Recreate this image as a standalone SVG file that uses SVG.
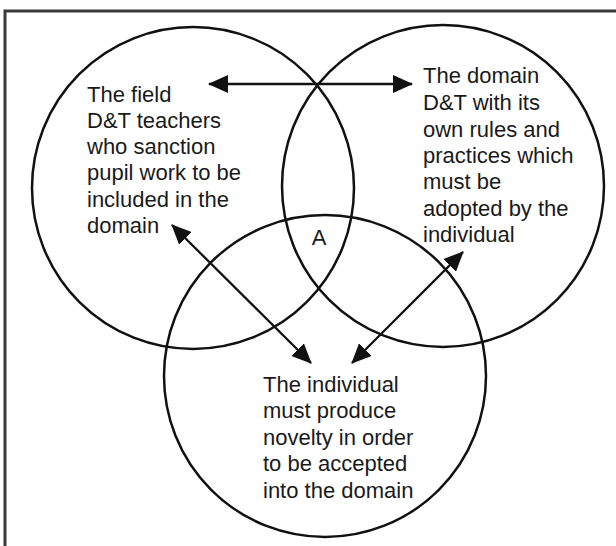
<svg xmlns="http://www.w3.org/2000/svg" width="616" height="546" viewBox="0 0 616 546">
  <style>
    .ring { fill: none; stroke: #111; stroke-width: 2.5; }
    .link { fill: none; stroke: #111; stroke-width: 2.3; }
    .label { font-family: "Liberation Sans", Arial, sans-serif; font-size: 22px; fill: #1a1a1a; }
    .frame { fill: none; stroke: #3a3a3a; stroke-width: 3; }
  </style>
  <defs>
    <marker id="head" viewBox="0 0 20 18" refX="19" refY="9" markerWidth="20" markerHeight="18" markerUnits="userSpaceOnUse" orient="auto-start-reverse">
      <path d="M0,0 L20,9 L0,18 Z" fill="#111"/>
    </marker>
  </defs>

  <rect width="616" height="546" fill="#fff"/>
  <!-- outer frame, open at right and bottom -->
  <path class="frame" d="M5,546 V11 H616"/>

  <g id="field">
    <circle class="ring" cx="193" cy="188" r="161"/>
    <text class="label">
      <tspan x="87" y="102">The field</tspan>
      <tspan x="87" y="128">D&amp;T teachers</tspan>
      <tspan x="87" y="154">who sanction</tspan>
      <tspan x="87" y="180">pupil work to be</tspan>
      <tspan x="87" y="207">included in the</tspan>
      <tspan x="87" y="233">domain</tspan>
    </text>
  </g>

  <g id="domain">
    <circle class="ring" cx="443" cy="186" r="161"/>
    <text class="label">
      <tspan x="423" y="83">The domain</tspan>
      <tspan x="423" y="110">D&amp;T with its</tspan>
      <tspan x="423" y="137">own rules and</tspan>
      <tspan x="423" y="163">practices which</tspan>
      <tspan x="423" y="189">must be</tspan>
      <tspan x="423" y="216">adopted by the</tspan>
      <tspan x="423" y="242">individual</tspan>
    </text>
  </g>

  <g id="individual">
    <circle class="ring" cx="325" cy="376" r="161"/>
    <text class="label">
      <tspan x="263" y="392">The individual</tspan>
      <tspan x="263" y="418">must produce</tspan>
      <tspan x="263" y="445">novelty in order</tspan>
      <tspan x="263" y="471">to be accepted</tspan>
      <tspan x="263" y="498">into the domain</tspan>
    </text>
  </g>

  <g id="overlap">
    <text class="label" x="319" y="245" text-anchor="middle">A</text>
  </g>

  <g id="connectors">
    <line class="link" x1="209" y1="84" x2="412" y2="84" marker-start="url(#head)" marker-end="url(#head)"/>
    <line class="link" x1="172" y1="225" x2="311" y2="363" marker-start="url(#head)" marker-end="url(#head)"/>
    <line class="link" x1="463" y1="252" x2="352" y2="363" marker-start="url(#head)" marker-end="url(#head)"/>
  </g>
</svg>
